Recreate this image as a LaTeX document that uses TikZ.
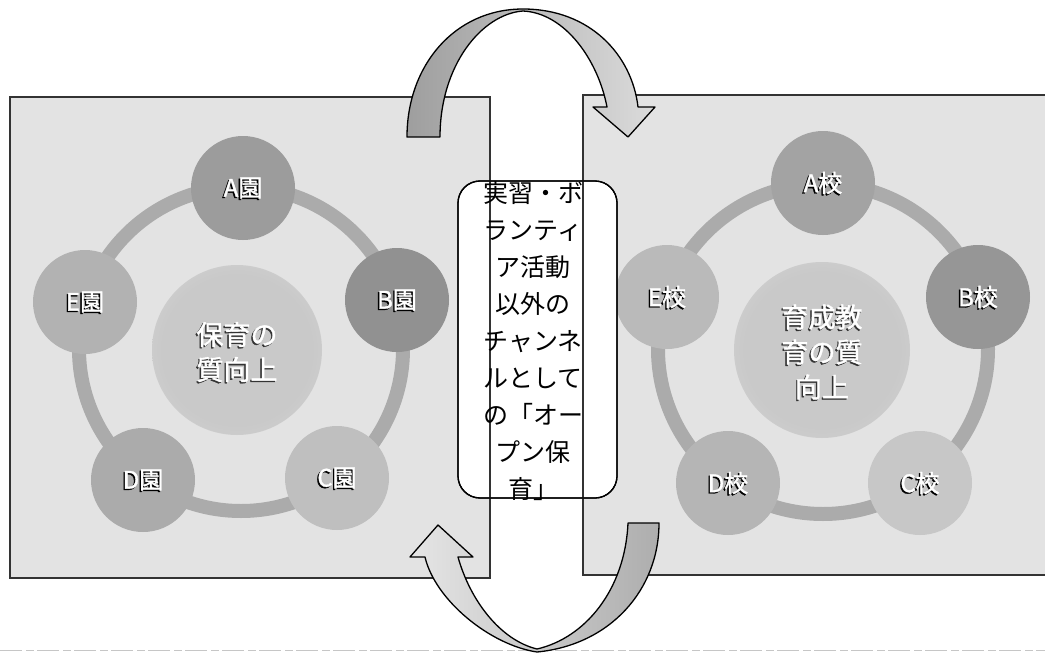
\documentclass[tikz,border=0pt]{standalone}
\usepackage{fontspec}
\newfontfamily\jp{Noto Sans CJK JP}
\newfontfamily\jpb[FakeBold=1.5]{Noto Sans CJK JP}
\definecolor{panelbg}{HTML}{E3E3E3}
\definecolor{glowc}{HTML}{C9C9C9}
\definecolor{ringc}{HTML}{ABABAB}
\definecolor{edgec}{HTML}{333333}
\pgfdeclareradialshading{glow}{\pgfpoint{0bp}{0bp}}{color(0bp)=(glowc); color(22bp)=(glowc); color(50bp)=(panelbg)}
\tikzset{
  panel/.style={fill=panelbg},
  paneledge/.style={draw=edgec, line width=1.4pt},
  ring/.style={draw=ringc, line width=14pt},
  site/.style={circle, minimum size=104pt, inner sep=0pt},
  lab/.style={font=\jpb\fontsize{24}{24}\selectfont, text=white, inner sep=0pt},
  labsh/.style={font=\jpb\fontsize{24}{24}\selectfont, text=black, inner sep=0pt},
  ctr/.style={font=\jpb\fontsize{27}{35}\selectfont, text=white, align=center, inner sep=0pt},
  ctrsh/.style={font=\jpb\fontsize{27}{35}\selectfont, text=black!80, align=center, inner sep=0pt},
  bigarrow/.style={draw=black, line width=1.3pt, line join=round},
  channel/.style={draw=black, line width=1.3pt, fill=white, rounded corners=22pt},
  chtext/.style={font=\jp\fontsize{25}{37}\selectfont, align=center, inner sep=0pt}
}
\begin{document}
\begin{tikzpicture}[x=1pt,y=-1pt]
\useasboundingbox (0,0) rectangle (1045,653);
% bottom dashed scan line
\draw[gray!45, line width=0.9pt, dash pattern=on 22pt off 4pt on 8pt off 3pt] (0,650) -- (1045,650);
% panels
\fill[panel] (10,97) rectangle (490,578);
\fill[panel] (583,95) rectangle (1046,575);
% glows
\shade[shading=glow] (237,350) circle (85pt);
\shade[shading=glow] (822,350) circle (88pt);
% rings
\draw[ring] (241,349) circle (162pt);
\draw[ring] (823,349) circle (165pt);
% left sites
\node[site, fill=black!39] (lA) at (243,188) {};
\node[site, fill=black!43] (lB) at (397,300) {};
\node[site, fill=black!25] (lC) at (337,478) {};
\node[site, fill=black!33] (lD) at (143,480) {};
\node[site, fill=black!30] (lE) at (85,302) {};
% right sites
\node[site, fill=black!36] (rA) at (823,183) {};
\node[site, fill=black!41] (rB) at (978,297) {};
\node[site, fill=black!22] (rC) at (920,483) {};
\node[site, fill=black!29] (rD) at (728,483) {};
\node[site, fill=black!27] (rE) at (667,297) {};
% labels with shadow
\foreach \n/\t in {lA/A園, lB/B園, lC/C園, lD/D園, lE/E園, rA/A校, rB/B校, rC/C校, rD/D校, rE/E校}{
  \node[labsh] (\n-s) at ([xshift=-1.4pt,yshift=-1.4pt]\n.center) {\t};
  \node[lab] (\n-t) at (\n.center) {\t};
}
\node[ctrsh] (lq-s) at (235.6,353.4) {保育の\\質向上};
\node[ctr] (lq) at (237,352) {保育の\\質向上};
\node[ctrsh] (rq-s) at (820.6,353.4) {育成教\\育の質\\向上};
\node[ctr] (rq) at (822,352) {育成教\\育の質\\向上};
% channel box
\path[channel] (458,181) rectangle (617,498);
% panel edges
\draw[paneledge] (490,97) -- (10,97) -- (10,578) -- (490,578) -- cycle;
\draw[paneledge] (1046,95) -- (583,95) -- (583,575) -- (1046,575);
\draw[channel, fill=none] (458,181) rectangle (617,498);
\node[chtext] (ch) at (533,341) {実習・ボ\\ランティ\\ア活動\\以外の\\チャンネ\\ルとして\\の「オー\\プン保\\育」};
% top curved arrow
\shadedraw[bigarrow, left color=black!38, right color=black!14]
  (407,137) .. controls (407,65) and (455,9) .. (523,9)
  .. controls (590,9) and (632,55) .. (638,107)
  -- (655,107) -- (628,137) -- (593,107) -- (607,107)
  .. controls (598,60) and (565,13) .. (523,11)
  .. controls (482,14) and (440,65) .. (440,137) -- cycle;
% bottom curved arrow
\shadedraw[bigarrow, left color=black!10, right color=black!32]
  (438,525) -- (473,557) -- (458,557)
  .. controls (470,600) and (500,640) .. (537,649)
  .. controls (585,638) and (625,590) .. (628,523)
  -- (659,523)
  .. controls (659,590) and (610,645) .. (537,652)
  .. controls (490,645) and (435,600) .. (425,557)
  -- (410,557) -- cycle;
\end{tikzpicture}
\end{document}
